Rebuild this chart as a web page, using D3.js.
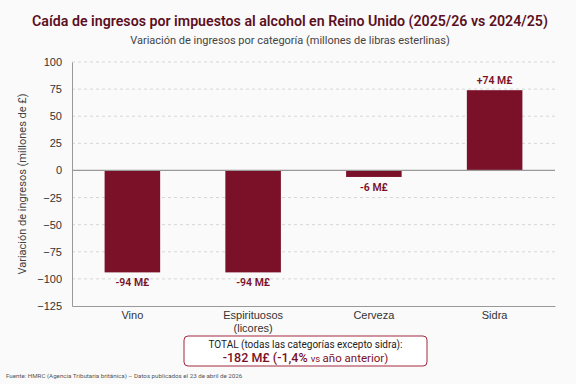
<!DOCTYPE html>
<html lang="es">
<head>
<meta charset="UTF-8">
<title>Impuestos al alcohol</title>
<script src="https://cdn.jsdelivr.net/npm/d3@7"></script>
<style>
  body { margin: 0; background: #fafafa; }
  svg { font-family: Roboto, "Noto Sans", sans-serif; }
  .grid line { stroke: #d6d6d6; stroke-dasharray: 3,3; }
  .axis text { font-size: 11px; fill: #333; }
</style>
</head>
<body>
<div id="chart"></div>
<script>
// datos
var categories = ["Vino", "Espirituosos\n(licores)", "Cerveza", "Sidra"];
var values = [-94, -94, -6, 74];
var valueLabels = ["-94 M£", "-94 M£", "-6 M£", "+74 M£"];
var yTicks = [100, 75, 50, 25, 0, -25, -50, -75, -100, -125];

var W = 576, H = 384;
var margin = { top: 62, right: 21, bottom: 78, left: 72 };
var width = W - margin.left - margin.right,
    height = H - margin.top - margin.bottom;
var barColor = "#7b1128";

var svg = d3.select("#chart").append("svg")
    .attr("width", W).attr("height", H);

svg.append("rect").attr("width", W).attr("height", H).attr("fill", "#fafafa");

// titulos
svg.append("text")
    .attr("x", W / 2 + 2).attr("y", 26)
    .attr("text-anchor", "middle")
    .style("font-size", "14.2px").style("font-weight", "600")
    .attr("fill", "#5b0f1f")
    .text("Caída de ingresos por impuestos al alcohol en Reino Unido (2025/26 vs 2024/25)");
svg.append("text")
    .attr("x", W / 2 + 2).attr("y", 44)
    .attr("text-anchor", "middle")
    .style("font-size", "11px")
    .attr("fill", "#444")
    .text("Variación de ingresos por categoría (millones de libras esterlinas)");

var g = svg.append("g").attr("transform", "translate(" + margin.left + "," + margin.top + ")");

var x = d3.scaleBand().domain(categories).range([0, width])
    .paddingInner(0.54).paddingOuter(0.27);
var y = d3.scaleLinear().domain([-125, 100]).range([height, 0]);

// grid
g.append("g").attr("class", "grid")
  .selectAll("line").data(yTicks.filter(function (d) { return d !== 0 && d !== -125; }))
  .enter().append("line")
  .attr("x1", 0).attr("x2", width)
  .attr("y1", function (d) { return y(d); })
  .attr("y2", function (d) { return y(d); });

// eje y
var yAxis = g.append("g").attr("class", "axis")
    .call(d3.axisLeft(y).tickValues(yTicks).tickSize(0).tickPadding(10)
      .tickFormat(function (d) { return d < 0 ? "\u2212" + Math.abs(d) : d; }));
yAxis.select(".domain").attr("stroke", "#999");

// eje x
var xAxis = g.append("g").attr("class", "axis")
    .attr("transform", "translate(0," + height + ")")
    .call(d3.axisBottom(x).tickSize(0).tickPadding(5));
xAxis.select(".domain").attr("stroke", "#999");
xAxis.selectAll(".tick text").each(function (d) {
  var t = d3.select(this), lines = d.split("\n");
  t.text(null);
  lines.forEach(function (l, i) {
    t.append("tspan").attr("x", 0).attr("dy", i === 0 ? "0.71em" : "1.2em").text(l);
  });
});

// barras
g.selectAll(".bar").data(values).enter().append("rect")
  .attr("class", "bar")
  .attr("x", function (d, i) { return x(categories[i]); })
  .attr("width", x.bandwidth())
  .attr("y", function (d) { return y(Math.max(0, d)); })
  .attr("height", function (d) { return Math.abs(y(d) - y(0)); })
  .attr("fill", barColor);

// linea cero
g.append("line")
  .attr("x1", 0).attr("x2", width)
  .attr("y1", y(0)).attr("y2", y(0))
  .attr("stroke", "#999").attr("stroke-width", 1.2);

// etiquetas de valor
g.selectAll(".vlabel").data(values).enter().append("text")
  .attr("x", function (d, i) { return x(categories[i]) + x.bandwidth() / 2; })
  .attr("y", function (d) { return d < 0 ? y(d) + 14 : y(d) - 6; })
  .attr("text-anchor", "middle")
  .style("font-size", "10.5px").style("font-weight", "600")
  .attr("fill", barColor)
  .text(function (d, i) { return valueLabels[i]; });

// titulo eje y
svg.append("text")
  .attr("transform", "translate(26," + (margin.top + height / 2) + ") rotate(-90)")
  .attr("text-anchor", "middle")
  .style("font-size", "11px").attr("fill", "#444")
  .text("Variación de ingresos (millones de £)");

// caja total
var bx = 184, by = 336, bw = 243, bh = 30;
svg.append("rect")
  .attr("x", bx).attr("y", by).attr("width", bw).attr("height", bh)
  .attr("rx", 4).attr("fill", "#fff")
  .attr("stroke", "#a3283f").attr("stroke-width", 1);
svg.append("text")
  .attr("x", bx + bw / 2).attr("y", by + 12)
  .attr("text-anchor", "middle")
  .style("font-size", "10px").attr("fill", "#222")
  .text("TOTAL (todas las categorías excepto sidra):");
var t2 = svg.append("text")
  .attr("x", bx + bw / 2).attr("y", by + 26)
  .attr("text-anchor", "middle")
  .attr("fill", barColor);
t2.append("tspan").style("font-size", "12.5px").style("font-weight", "500").text("-182 M£ (-1,4% ");
t2.append("tspan").style("font-size", "9.5px").text("vs ");
t2.append("tspan").style("font-size", "11.5px").text("año anterior)");

// fuente
svg.append("text")
  .attr("x", 6).attr("y", 378)
  .style("font-size", "6.2px").attr("fill", "#555")
  .text("Fuente: HMRC (Agencia Tributaria británica) – Datos publicados el 23 de abril de 2026");
</script>
</body>
</html>
